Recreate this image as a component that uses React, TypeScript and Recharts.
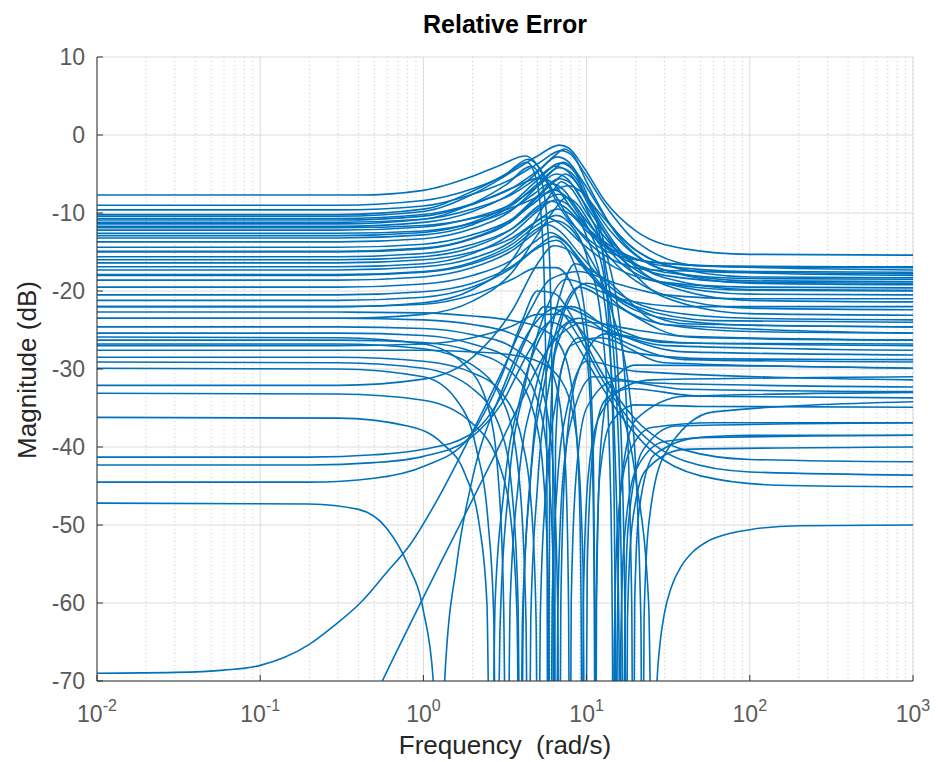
import { LineChart, Line, XAxis, YAxis, CartesianGrid } from "recharts";

type Pt = [number, number];

const decadeTicks = [0.01, 0.1, 1, 10, 100, 1000];
const minorTicks = [
  0.02, 0.03, 0.04, 0.05, 0.06, 0.07, 0.08, 0.09,
  0.2, 0.3, 0.4, 0.5, 0.6, 0.7, 0.8, 0.9,
  2, 3, 4, 5, 6, 7, 8, 9,
  20, 30, 40, 50, 60, 70, 80, 90,
  200, 300, 400, 500, 600, 700, 800, 900,
];
const dbTicks = [-70, -60, -50, -40, -30, -20, -10, 0, 10];

// flat at low freq, resonant peak around 4-8 rad/s, flat again above
const peakCurves: Pt[][] = [
  [[0.01,-9],[0.3,-9],[1,-8.4],[2,-6.9],[3.5,-4.7],[5,-2.7],[6.8,-1.3],[7.8,-1.7],[9.5,-4],[13,-8.5],[20,-12.3],[40,-14.6],[100,-15.3],[1000,-15.4]],
  [[0.01,-7.7],[0.4,-7.7],[1,-7.1],[2,-5.3],[3,-3.8],[4.2,-2.7],[4.8,-3.4],[5.6,-5.8],[7,-9.6],[10,-13.2],[20,-16],[60,-16.8],[1000,-16.9]],
  [[0.01,-9.6],[0.3,-9.6],[1,-9.1],[2,-7.6],[3.5,-5.6],[5,-3.7],[7,-2],[8,-2.5],[9.5,-4.6],[13,-9],[20,-13.6],[50,-16.8],[1000,-17.3]],
  [[0.01,-10.2],[0.3,-10.2],[1,-9.5],[2,-7.2],[3.2,-5],[4.4,-3.1],[5,-3.9],[6,-6.6],[8,-11],[12,-15],[25,-17.3],[1000,-17.8]],
  [[0.01,-10.7],[0.3,-10.7],[1,-10.2],[2,-8.8],[3.5,-6.8],[5,-4.6],[6.6,-2.8],[7.6,-3.3],[9.5,-6],[14,-11.5],[30,-16.6],[100,-18.2],[1000,-18.3]],
  [[0.01,-11.2],[0.3,-11.2],[1,-10.8],[2,-9.5],[3.5,-7.6],[5,-5.5],[6.4,-4],[7.5,-4.5],[9.5,-7.3],[14,-12.3],[30,-17.3],[100,-18.7],[1000,-18.8]],
  [[0.01,-11.7],[0.3,-11.7],[1,-11.2],[2,-9.8],[3.5,-7.4],[5,-4.8],[6.5,-2.5],[7.3,-1.8],[8.3,-2.6],[10,-6],[15,-12.5],[30,-17.3],[100,-19],[1000,-19.2]],
  [[0.01,-12.2],[0.3,-12.2],[1,-11.8],[2,-10.6],[3.5,-8.8],[5,-6.6],[6.5,-5],[7.6,-5.6],[9.5,-8.5],[14,-13.5],[30,-18.3],[100,-19.8],[1000,-19.9]],
  [[0.01,-12.6],[0.3,-12.6],[1,-12.3],[2,-11.3],[3.5,-9.5],[4.8,-7.5],[6,-6.2],[7.2,-7],[9,-9.8],[14,-14.6],[30,-19],[100,-20.4],[1000,-20.5]],
  [[0.01,-13.7],[0.3,-13.7],[1,-13.3],[2,-12],[3.5,-9.6],[5,-6.6],[6.4,-4.3],[7.2,-3.5],[8.3,-4.5],[10,-8],[15,-14],[30,-19.2],[100,-21.2],[1000,-21.4]],
  [[0.01,-14.4],[0.3,-14.4],[1,-14],[2,-12.8],[3.5,-10.8],[5,-8.4],[6.2,-7],[7.4,-7.8],[9.5,-11],[14,-15.8],[30,-20.5],[100,-22.2],[1000,-22.4]],
  [[0.01,-15],[0.3,-15],[1,-14.6],[2,-13.3],[3.5,-11],[5,-8],[6.5,-5.8],[7.4,-5],[8.5,-5.9],[10.5,-9.3],[16,-15.5],[30,-20.8],[100,-22.9],[1000,-23.1]],
  [[0.01,-15.6],[0.3,-15.6],[1,-15.2],[2,-14],[3.5,-12],[4.8,-9.8],[6,-8.5],[7.3,-9.2],[9.5,-11.5],[15,-14.6],[30,-16.8],[100,-17.5],[1000,-17.6]],
  [[0.01,-16.4],[0.3,-16.4],[1,-16],[2,-15],[3.5,-13.2],[5,-11],[6.6,-9.5],[8,-10.2],[10,-12.3],[15,-15.3],[30,-17.6],[100,-18.4],[1000,-18.5]],
  [[0.01,-17.3],[0.3,-17.3],[1,-16.9],[2,-15.8],[3.5,-13.6],[4.6,-11.6],[5.5,-10.5],[6.8,-11.3],[9,-13.6],[15,-17],[30,-18.9],[100,-19.5],[1000,-19.6]],
  [[0.01,-18.6],[0.3,-18.6],[1,-18.2],[2,-17],[3.5,-14.8],[4.8,-12.6],[5.8,-11.5],[7,-12.5],[9,-15.2],[14,-19.5],[30,-22.6],[100,-23.5],[1000,-23.7]],
  [[0.01,-19.5],[0.3,-19.5],[1,-19.1],[2,-18],[3.5,-16],[4.8,-13.7],[6,-12.5],[7.2,-13.4],[9.3,-16.2],[14,-20.4],[30,-23.5],[100,-24.4],[1000,-24.6]],
  [[0.01,-20.5],[0.3,-20.5],[1,-20.1],[2,-19],[3.5,-16.8],[5,-14.3],[6.3,-13],[7.6,-14],[9.7,-17],[15,-21.5],[30,-24.3],[100,-25.2],[1000,-25.4]],
  [[0.01,-10.9],[0.3,-10.9],[1,-10.4],[2,-8.9],[3.5,-6.8],[5.2,-5.5],[6.3,-6.3],[8,-9.3],[12,-13.5],[25,-16.3],[100,-16.9],[1000,-17]],
  [[0.01,-11.9],[0.3,-11.9],[1,-11.6],[2,-10.7],[3.5,-9.3],[5.5,-7.6],[7.8,-6.5],[9.3,-7.3],[12,-10],[20,-14.8],[50,-17.5],[1000,-18]],
  [[0.01,-22],[0.3,-22],[1,-21.5],[2,-19.8],[3.5,-16],[5,-10.5],[6.2,-7.2],[7,-6],[8,-6.8],[10,-10],[15,-14.6],[30,-18],[100,-18.9],[1000,-19]],
  [[0.01,-23.5],[0.3,-23.5],[1,-23],[2,-21.3],[3.5,-17.6],[5,-12.8],[6.5,-9.3],[7.5,-8],[8.6,-8.7],[11,-12],[16,-16.3],[30,-19],[100,-19.9],[1000,-20]],
];

// curves with a deep notch (drops below the -70 dB floor)
const notchCurves: Pt[][] = [
  [[0.01,-47.2],[0.2,-47.3],[0.4,-48],[0.6,-50.5],[0.8,-55],[1,-61],[1.15,-70],[1.25,-95],[1.35,-70],[1.6,-55],[2,-44],[3,-33],[4.5,-25],[7,-22],[12,-24],[30,-26.6],[1000,-27]],
  [[0.01,-36.2],[0.3,-36.3],[0.8,-37.3],[1.3,-39.5],[1.8,-43.5],[2.2,-50],[2.45,-60],[2.6,-95],[2.75,-60],[3.1,-46],[4,-33],[5.5,-25],[8,-22],[14,-25],[40,-27.8],[1000,-28.2]],
  [[0.01,-25.9],[0.3,-26],[1,-26.8],[1.8,-29.5],[2.5,-35],[2.9,-45],[3.1,-60],[3.25,-95],[3.4,-60],[3.8,-45],[4.8,-33],[6.5,-25.5],[9,-23.5],[15,-26],[40,-28.8],[1000,-29.1]],
  [[0.01,-33.1],[0.3,-33.2],[1,-34],[2,-37],[3,-43],[3.5,-51],[3.75,-62],[3.9,-95],[4.05,-62],[4.5,-45],[5.5,-32],[7,-23],[9,-19.5],[14,-21.5],[40,-25.8],[1000,-26.3]],
  [[0.01,-29.1],[0.3,-29.2],[1,-29.9],[2,-32.5],[3,-38],[3.5,-46],[3.8,-60],[3.95,-95],[4.1,-60],[4.6,-42],[5.6,-29],[7,-20],[8.5,-16.5],[12,-18],[30,-24.3],[1000,-25.4]],
  [[0.01,-28.5],[0.3,-28.5],[1,-29],[2,-30.5],[3,-33],[4,-39],[4.6,-48],[4.9,-62],[5.05,-95],[5.2,-62],[5.6,-46],[6.5,-34],[8,-27],[12,-26],[30,-29.2],[1000,-29.9]],
  [[0.01,-26.3],[0.3,-26.3],[1,-26.6],[2,-27.8],[3.5,-30.5],[4.8,-36],[5.5,-45],[5.85,-60],[6,-95],[6.15,-60],[6.6,-45],[7.6,-35],[10,-29],[20,-30.3],[1000,-31.4]],
  [[0.01,-25.4],[0.3,-25.4],[1,-25.7],[2,-26.8],[3.5,-29],[5,-34],[5.9,-44],[6.35,-62],[6.5,-95],[6.65,-62],[7.1,-45],[8.2,-36],[11,-31],[25,-31.8],[1000,-32.3]],
  [[0.01,-24.6],[0.3,-24.6],[1,-24.8],[2,-25.6],[3.5,-27.2],[5,-31],[6.1,-40],[6.65,-60],[6.8,-95],[6.95,-60],[7.5,-40],[9,-30],[13,-25.5],[30,-27],[1000,-27.6]],
  [[0.01,-23.5],[0.3,-23.5],[1,-23.7],[2,-24.3],[3.5,-25.5],[5,-27.5],[6.5,-32],[7.4,-42],[7.75,-60],[7.9,-95],[8.05,-60],[8.6,-44],[10,-35],[15,-31.5],[40,-32.6],[1000,-32.9]],
  [[0.01,-22.7],[0.3,-22.7],[1,-22.8],[2,-23.2],[3.5,-23.8],[5,-24.6],[6.8,-26.8],[8.2,-33],[9,-45],[9.25,-60],[9.4,-95],[9.55,-60],[10.2,-44],[12,-36],[18,-32.5],[50,-33.5],[1000,-33.7]],
  [[0.01,-22],[0.3,-22],[1,-21.7],[2,-20.5],[3.5,-18.5],[5,-17],[6.5,-17],[8,-19],[9.8,-26],[10.8,-40],[11.15,-60],[11.3,-95],[11.45,-60],[12,-44],[14,-37],[20,-34.6],[50,-34.8],[1000,-34.9]],
  [[0.01,-21.2],[0.3,-21.2],[1,-20.8],[2,-19.5],[3.5,-17],[5,-14.5],[6.5,-13.5],[8,-15.5],[9.8,-23],[10.9,-38],[11.2,-60],[11.35,-95],[11.5,-60],[12.2,-40],[14,-32],[20,-29.5],[1000,-29.9]],
  [[0.01,-17.9],[0.3,-17.9],[1,-17.5],[2,-16.3],[3.5,-14],[5,-11.5],[6.5,-10.3],[8,-11.5],[10,-15.5],[12.5,-25],[14,-45],[14.4,-65],[14.6,-95],[14.8,-65],[15.5,-50],[18,-41],[25,-37.5],[60,-36.9],[1000,-36.9]],
  [[0.01,-16.9],[0.3,-16.9],[1,-16.5],[2,-15.2],[3.5,-12.6],[5,-9.8],[6.5,-8.3],[8,-9.3],[10,-13],[13,-22],[15,-42],[15.8,-65],[16,-95],[16.2,-65],[17,-52],[20,-43],[30,-39.3],[100,-38.5],[1000,-38.5]],
  [[0.01,-14.9],[0.3,-14.9],[1,-14.5],[2,-13.2],[3.5,-10.8],[5,-7.8],[6.8,-5.6],[8,-6.2],[10,-9.5],[13,-16.5],[16,-35],[17.2,-62],[17.5,-95],[17.8,-62],[19,-50],[23,-43],[40,-40.3],[1000,-40]],
  [[0.01,-13.2],[0.3,-13.2],[1,-12.8],[2,-11.5],[3.5,-9],[5,-6.3],[6.8,-4.2],[8,-4.8],[10,-8],[13,-14.5],[17,-30],[18.9,-60],[19.3,-95],[19.7,-60],[21,-48],[26,-41],[50,-38.8],[1000,-38.5]],
  [[0.01,-18],[0.3,-18],[1,-17.6],[2,-16.5],[3.5,-14.4],[5,-12],[6.5,-11],[8,-12],[10,-15],[14,-22],[19,-36],[21.5,-62],[22,-95],[22.5,-62],[24,-50],[30,-41],[60,-35.5],[1000,-34.2]],
  [[0.01,-27],[0.3,-27],[1,-26.8],[2,-26],[3.5,-24.5],[5,-23],[7,-23],[10,-26],[15,-33],[20,-44],[24,-60],[25.6,-95],[26,-80],[27,-70],[28,-65.7],[30,-61.3],[33,-58],[38,-55.3],[45,-53.4],[55,-52.1],[75,-51.1],[100,-50.6],[200,-50.1],[1000,-50]],
  [[0.01,-12.9],[0.3,-12.9],[1,-12.5],[2,-11.2],[3.5,-8.7],[5,-5.8],[6.9,-3.6],[8,-4.2],[10,-7.5],[12.5,-15],[14.4,-35],[15,-65],[15.2,-95],[15.4,-65],[16.2,-45],[20,-36.5],[40,-33.5],[1000,-33]],
  [[0.01,-10.4],[0.3,-10.4],[1,-9.8],[2,-7.6],[3.2,-5.2],[4.3,-3.5],[4.9,-5.5],[5.4,-14],[5.7,-40],[5.8,-95],[5.95,-40],[6.4,-28],[8,-24],[15,-25.5],[50,-26.7],[1000,-26.8]],
  [[0.01,-11.4],[0.3,-11.4],[1,-10.8],[2,-8.8],[3.2,-6.4],[4.6,-4],[5.3,-6],[5.9,-15],[6.2,-40],[6.3,-95],[6.45,-40],[7,-30],[9,-26],[18,-27.8],[60,-28.7],[1000,-28.8]],
  [[0.01,-27.6],[0.3,-27.6],[1,-27.6],[2,-27.8],[3.5,-28.2],[5,-29],[7,-31.5],[8.6,-38],[9.5,-55],[9.8,-95],[10.1,-55],[11,-40],[13,-34],[25,-31.4],[1000,-31]],
  [[0.01,-26.8],[0.3,-26.8],[1,-27.4],[2,-29.5],[3.2,-35],[3.9,-45],[4.25,-62],[4.4,-95],[4.55,-62],[5,-45],[6,-31],[7.5,-22],[10,-19],[20,-22],[60,-23.8],[1000,-24]],
  [[0.01,-16],[0.3,-16],[1,-15.6],[2,-14.4],[3.5,-12],[5,-9.2],[6.7,-7.6],[8,-8.4],[10,-11.6],[13,-19],[15.6,-38],[16.5,-65],[16.8,-95],[17.1,-65],[18,-50],[22,-40.5],[35,-37.3],[1000,-36.9]],
  [[0.01,-29.9],[0.3,-30],[1,-31],[1.6,-34],[2.1,-40],[2.5,-50],[2.7,-62],[2.8,-95],[2.95,-63],[3.3,-46],[4.2,-32],[5.5,-23],[7.5,-18.5],[12,-20],[40,-24.2],[1000,-24.6]],
];

// low curves that swell up through the middle and settle low again
const humpCurves: Pt[][] = [
  [[0.01,-41.3],[0.2,-41.3],[0.5,-41],[1,-40.3],[1.9,-38.5],[3,-33.5],[4.3,-26],[5.5,-22],[6.8,-22.5],[9,-26],[13,-32],[20,-37.5],[40,-41.8],[100,-43.2],[1000,-43.6]],
  [[0.01,-42.3],[0.2,-42.3],[0.5,-42],[1,-41.2],[1.9,-39],[3,-34.5],[4.5,-27.5],[6,-24],[7.5,-25],[10,-29],[15,-35],[25,-40.5],[50,-43.7],[150,-44.9],[1000,-45.1]],
  [[0.01,-44.5],[0.2,-44.5],[0.5,-44],[1,-42.5],[1.9,-38.8],[3,-31],[4,-24],[5,-20],[6.3,-20.3],[8.5,-24],[12,-30],[20,-36.5],[40,-40.4],[100,-41.6],[1000,-41.9]],
  [[0.01,-32.1],[0.3,-32.1],[1,-31.3],[2,-28.5],[3.5,-22.5],[5,-16.5],[6.3,-14.2],[7.8,-14.8],[10,-17.5],[16,-21],[40,-22],[1000,-22]],
];

// climbing up from the bottom of the plot
const risingCurves: Pt[][] = [
  [[0.01,-69],[0.03,-68.9],[0.06,-68.6],[0.1,-68],[0.14,-67],[0.2,-65.3],[0.28,-63],[0.41,-60],[0.6,-56],[0.83,-52.5],[1.2,-47],[1.9,-39],[3,-30.5],[4.5,-22.5],[6,-18.5],[9,-17.5],[15,-19],[30,-20.5],[100,-21],[1000,-21]],
  [[0.3,-82],[0.56,-70],[1.3,-54.5],[2.6,-42],[4,-34],[6,-27],[10,-24],[20,-25],[50,-26],[1000,-26.3]],
];

const allCurves = [...peakCurves, ...notchCurves, ...humpCurves, ...risingCurves];

const FONT = "'Liberation Sans', Arial, Helvetica, sans-serif";
const BLUE = "#0072BD";
const AXIS = "#333333";
const TICK = "#5a5a5a";
const LABEL = "#262626";

function DecadeTick({ x, y, payload }: { x?: number; y?: number; payload?: { value: number } }) {
  if (x == null || y == null || !payload) return null;
  const exp = Math.round(Math.log10(payload.value));
  return (
    <text x={x} y={y + 41} textAnchor="middle" fill={TICK} fontSize={23} fontFamily={FONT}>
      10
      <tspan dy={-11} fontSize={16}>
        {exp}
      </tspan>
    </text>
  );
}

const noTick = () => <g />;

export default function App() {
  return (
    <div
      style={{
        position: "absolute",
        left: 0,
        top: 0,
        width: 938,
        height: 762,
        background: "#fff",
        fontFamily: FONT,
      }}
    >
      <LineChart width={938} height={762} margin={{ top: 57, right: 25, bottom: 41, left: 37 }}>
        <XAxis
          xAxisId="minorB"
          type="number"
          scale="log"
          dataKey="f"
          domain={[0.01, 1000]}
          allowDataOverflow
          ticks={minorTicks}
          interval={0}
          height={0}
          tickSize={-3}
          axisLine={false}
          stroke={AXIS}
          tick={noTick}
        />
        <XAxis
          xAxisId="main"
          type="number"
          scale="log"
          dataKey="f"
          domain={[0.01, 1000]}
          allowDataOverflow
          ticks={decadeTicks}
          interval={0}
          height={40}
          tickSize={-6}
          tickMargin={6}
          stroke={AXIS}
          tick={(p: any) => <DecadeTick {...p} />}
        />
        <XAxis
          xAxisId="minorT"
          orientation="top"
          type="number"
          scale="log"
          dataKey="f"
          domain={[0.01, 1000]}
          allowDataOverflow
          ticks={minorTicks}
          interval={0}
          height={0}
          tickSize={-3}
          axisLine={false}
          stroke={AXIS}
          tick={noTick}
        />
        <XAxis
          xAxisId="top"
          orientation="top"
          type="number"
          scale="log"
          dataKey="f"
          domain={[0.01, 1000]}
          allowDataOverflow
          ticks={decadeTicks}
          interval={0}
          height={0}
          tickSize={-6}
          stroke={AXIS}
          tick={noTick}
        />
        <YAxis
          yAxisId="left"
          type="number"
          domain={[-70, 10]}
          allowDataOverflow
          ticks={dbTicks}
          interval={0}
          width={60}
          tickSize={-6}
          tickMargin={18}
          stroke={AXIS}
          tick={{ fill: TICK, fontSize: 23, fontFamily: FONT }}
        />
        <YAxis
          yAxisId="right"
          orientation="right"
          type="number"
          domain={[-70, 10]}
          allowDataOverflow
          ticks={dbTicks}
          interval={0}
          width={0}
          tickSize={-6}
          stroke={AXIS}
          tick={noTick}
        />
        <CartesianGrid
          xAxisId="minorB"
          yAxisId="left"
          horizontal={false}
          stroke="#c4c4c4"
          strokeDasharray="1 3"
        />
        <CartesianGrid xAxisId="main" yAxisId="left" stroke="#dadada" />
        {allCurves.map((c, i) => (
          <Line
            key={i}
            xAxisId="main"
            yAxisId="left"
            data={c.map(([f, v]) => ({ f, v }))}
            dataKey="v"
            type="monotone"
            stroke={BLUE}
            strokeWidth={1.6}
            dot={false}
            activeDot={false}
            isAnimationActive={false}
          />
        ))}
      </LineChart>
      <div
        style={{
          position: "absolute",
          left: 505,
          top: 24,
          transform: "translate(-50%, -50%)",
          fontSize: 25,
          fontWeight: "bold",
          color: "#000",
          whiteSpace: "pre",
        }}
      >
        Relative Error
      </div>
      <div
        style={{
          position: "absolute",
          left: 505,
          top: 745,
          transform: "translate(-50%, -50%)",
          fontSize: 26,
          color: LABEL,
          whiteSpace: "pre",
        }}
      >
        Frequency  (rad/s)
      </div>
      <div
        style={{
          position: "absolute",
          left: 27,
          top: 370,
          transform: "translate(-50%, -50%) rotate(-90deg)",
          fontSize: 26,
          color: LABEL,
          whiteSpace: "pre",
        }}
      >
        Magnitude (dB)
      </div>
    </div>
  );
}
